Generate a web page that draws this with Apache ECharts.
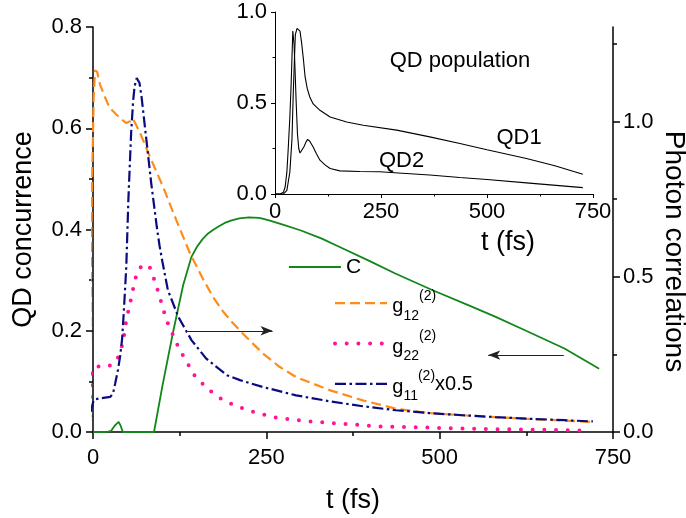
<!DOCTYPE html>
<html>
<head>
<meta charset="utf-8">
<script src="https://cdn.jsdelivr.net/npm/echarts@6/dist/echarts.min.js"></script>
<style>html,body{margin:0;padding:0;background:#fff}#c{width:686px;height:518px}</style>
</head>
<body>
<div id="c"></div>
<script>
// ---- main panel data (t in fs) ----
const cT = [0, 20, 26, 31, 37, 40, 43, 88, 100, 115, 130, 142, 150, 158, 165, 173, 181, 190, 200, 211, 225, 240, 254, 275, 300, 330, 355, 400, 436, 490, 542, 580, 623, 680, 730];
const cV = [0, 0, 0.002, 0.012, 0.02, 0.012, 0, 0, 0.09, 0.194, 0.29, 0.346, 0.366, 0.381, 0.391, 0.399, 0.406, 0.413, 0.418, 0.422, 0.424, 0.423, 0.418, 0.409, 0.398, 0.382, 0.366, 0.337, 0.313, 0.28, 0.25, 0.228, 0.201, 0.165, 0.125];

const g12T = [-6, -4.5, -3, -1, 1, 3, 6, 10, 17, 24, 34, 42, 48, 53, 57, 62, 68, 82, 101, 120, 140, 157, 173, 187, 202, 221, 245, 269, 293, 341, 389, 437, 485, 533, 580, 624, 680, 721];
const g12V = [0, 0.25, 0.55, 0.85, 1.08, 1.165, 1.16, 1.12, 1.08, 1.044, 1.022, 1.005, 0.995, 1.0, 1.01, 0.99, 0.963, 0.887, 0.79, 0.683, 0.575, 0.5, 0.435, 0.39, 0.35, 0.306, 0.253, 0.21, 0.177, 0.135, 0.102, 0.075, 0.061, 0.054, 0.048, 0.043, 0.037, 0.032];

const g22T = [-6, -4, -2, 3, 12, 21, 30, 36, 43, 48, 54, 58, 63, 70, 76, 82, 87, 94, 106, 124, 147, 165, 180, 202, 226, 259, 307, 355, 413, 485, 533, 620, 706];
const g22V = [0, 0.145, 0.19, 0.212, 0.21, 0.21, 0.222, 0.24, 0.285, 0.36, 0.42, 0.463, 0.511, 0.535, 0.541, 0.53, 0.5, 0.452, 0.36, 0.269, 0.18, 0.14, 0.113, 0.088, 0.068, 0.048, 0.035, 0.027, 0.018, 0.014, 0.011, 0.008, 0.005];

const g11T = [-7.5, -5, -2.6, 0, 2, 15, 25, 29, 32, 36, 39, 42, 44, 46, 48, 51, 55, 58, 60, 63, 67, 70, 77, 84, 92, 96, 100, 108, 123, 142, 163, 193, 212, 245, 293, 341, 389, 437, 485, 533, 580, 624, 680, 721];
const g11V = [0, 0.04, 0.07, 0.095, 0.105, 0.11, 0.113, 0.125, 0.156, 0.2, 0.242, 0.3, 0.371, 0.45, 0.532, 0.747, 0.963, 1.07, 1.113, 1.14, 1.125, 1.08, 0.941, 0.801, 0.661, 0.6, 0.55, 0.457, 0.371, 0.296, 0.237, 0.183, 0.167, 0.145, 0.118, 0.099, 0.083, 0.07, 0.061, 0.054, 0.048, 0.043, 0.038, 0.034];

// ---- inset data ----
const qd1T = [0, 20, 28, 35, 40, 43, 46, 48, 52, 55, 59, 63, 67, 71, 76, 82, 90, 106, 130, 169, 208, 287, 365, 436, 500, 593, 660, 726];
const qd1V = [0, 0, 0.02, 0.12, 0.3, 0.55, 0.75, 0.876, 0.91, 0.916, 0.895, 0.826, 0.74, 0.643, 0.58, 0.533, 0.495, 0.46, 0.423, 0.396, 0.378, 0.351, 0.314, 0.277, 0.243, 0.195, 0.155, 0.108];
const qd2T = [0, 12, 20, 24, 28, 31, 35, 38, 42, 45, 47, 50, 53, 56, 59, 63, 68, 73, 77, 82, 90, 98, 106, 118, 130, 153, 200, 247, 300, 365, 436, 500, 600, 726];
const qd2V = [0, 0, 0.01, 0.04, 0.12, 0.24, 0.42, 0.6, 0.896, 0.82, 0.7, 0.5, 0.33, 0.25, 0.225, 0.235, 0.258, 0.285, 0.3, 0.29, 0.258, 0.22, 0.186, 0.16, 0.14, 0.127, 0.124, 0.122, 0.114, 0.104, 0.091, 0.08, 0.06, 0.035];

// ---- axes / ticks ----
const rightTicks = [0, 0.5, 1.0];
const rightMinor = [0.25, 0.75, 1.25];

// ---- annotation arrows (data coords) ----
const arrowRight = [[137, 0.2], [259, 0.2]];   // points to right axis
const arrowLeft = [[679, 0.152], [570, 0.152]]; // points to left axis

const zip = (a, b) => a.map((t, i) => [t, b[i]]);
const FONT = '"Liberation Sans", Arial, sans-serif';

const chart = echarts.init(document.getElementById('c'), null, {renderer: 'canvas'});

const axisLineMain = {show: true, lineStyle: {color: '#000', width: 1.5}};
const axisLineInset = {show: true, lineStyle: {color: '#000', width: 1}};
const lblMain = {color: '#000', fontSize: 22, fontFamily: FONT};

const richLeg = {
  h: {fontSize: 1, height: 34},
  g: {fontSize: 20, fontFamily: FONT, color: '#000', height: 27, verticalAlign: 'bottom'},
  sub: {fontSize: 14, fontFamily: FONT, color: '#000', height: 9, verticalAlign: 'bottom'},
  sup: {fontSize: 14, fontFamily: FONT, color: '#000', height: 19, verticalAlign: 'top'},
  x: {fontSize: 20, fontFamily: FONT, color: '#000', height: 33, verticalAlign: 'bottom'}
};
const legendLabels = {
  g12: '{h| }{g|g}{sub|12}{sup|(2)}',
  g22: '{h| }{g|g}{sub|22}{sup|(2)}',
  g11: '{h| }{g|g}{sub|11}{sup|(2)}{x|x0.5}'
};

const option = {
  animation: false,
  backgroundColor: '#fff',
  grid: [
    {left: 93, right: 73, top: 27, bottom: 86, containLabel: false, outerBoundsMode: 'none'},
    {left: 275, right: 93, top: 12, bottom: 324, containLabel: false, outerBoundsMode: 'none'}
  ],
  xAxis: [
    {
      gridIndex: 0, type: 'value', min: 0, max: 750, interval: 250,
      name: 't (fs)', nameLocation: 'middle', nameGap: 55, nameMoveOverlap: false,
      nameTextStyle: {fontSize: 27, color: '#000', fontFamily: FONT},
      axisLine: axisLineMain,
      axisTick: {show: true, length: 7, lineStyle: {color: '#000', width: 1.5}},
      minorTick: {show: true, splitNumber: 2, length: 4, lineStyle: {color: '#000', width: 1.5}},
      axisLabel: Object.assign({margin: 15}, lblMain),
      splitLine: {show: false}
    },
    {
      gridIndex: 1, type: 'value', min: 0, max: 750, interval: 250,
      name: 't (fs)', nameLocation: 'middle', nameGap: 35, nameMoveOverlap: false,
      nameTextStyle: {fontSize: 27, color: '#000', fontFamily: FONT, padding: [0, 0, 0, 148]},
      axisLine: axisLineInset,
      axisTick: {show: true, length: 4, lineStyle: {color: '#000', width: 1}},
      minorTick: {show: true, splitNumber: 2, length: 2.5, lineStyle: {color: '#000', width: 1}},
      axisLabel: Object.assign({margin: 7}, lblMain),
      splitLine: {show: false}
    }
  ],
  yAxis: [
    {
      gridIndex: 0, type: 'value', min: 0, max: 0.8, interval: 0.2, position: 'left',
      name: 'QD concurrence', nameLocation: 'middle', nameGap: 56, nameRotate: 90, nameMoveOverlap: false,
      nameTextStyle: {fontSize: 27, color: '#000', fontFamily: FONT},
      axisLine: axisLineMain,
      axisTick: {show: true, length: 7, lineStyle: {color: '#000', width: 1.5}},
      minorTick: {show: true, splitNumber: 2, length: 4, lineStyle: {color: '#000', width: 1.5}},
      axisLabel: Object.assign({margin: 11, formatter: v => v.toFixed(1)}, lblMain),
      splitLine: {show: false}
    },
    {
      gridIndex: 0, type: 'value', min: 0, max: 1.3045, position: 'right',
      name: 'Photon correlations', nameLocation: 'middle', nameGap: 47, nameRotate: -90, nameMoveOverlap: false,
      nameTextStyle: {fontSize: 28, color: '#000', fontFamily: FONT, padding: [0, 0, 0, 44]},
      axisLine: axisLineMain,
      axisTick: {show: true, length: 7, customValues: rightTicks, lineStyle: {color: '#000', width: 1.5}},
      axisLabel: Object.assign({margin: 10, customValues: rightTicks, formatter: v => v.toFixed(1)}, lblMain),
      splitLine: {show: false}
    },
    {
      gridIndex: 1, type: 'value', min: 0, max: 1, interval: 0.5,
      axisLine: axisLineInset,
      axisTick: {show: true, length: 4, lineStyle: {color: '#000', width: 1}},
      minorTick: {show: true, splitNumber: 2, length: 2.5, lineStyle: {color: '#000', width: 1}},
      axisLabel: Object.assign({margin: 8, formatter: v => v.toFixed(1)}, lblMain),
      splitLine: {show: false}
    },
    {
      gridIndex: 0, type: 'value', min: 0, max: 1.3045, position: 'right',
      axisLine: {show: false},
      axisTick: {show: true, length: 4, customValues: rightMinor, lineStyle: {color: '#000', width: 1.5}},
      axisLabel: {show: false},
      splitLine: {show: false}
    }
  ],
  legend: [
    {
      data: ['C'], left: 288, top: 255, padding: 0, itemWidth: 52, itemHeight: 14,
      itemStyle: {opacity: 0}, lineStyle: {width: 'inherit'},
      textStyle: {fontSize: 21, lineHeight: 24, color: '#000', fontFamily: FONT},
      selectedMode: false
    },
    {
      data: ['g12', 'g22', 'g11'], orient: 'vertical', left: 333, top: 288.7, padding: 0,
      itemWidth: 52, itemHeight: 14, itemGap: 6.3,
      itemStyle: {opacity: 0}, lineStyle: {width: 'inherit'},
      formatter: n => legendLabels[n],
      textStyle: {color: '#000', fontFamily: FONT, rich: richLeg},
      selectedMode: false
    }
  ],
  graphic: [
    {type: 'text', x: 460, y: 61, silent: true,
     style: {text: 'QD population', font: '22px ' + FONT, fill: '#000', align: 'center', verticalAlign: 'middle', textAlign: 'center', textVerticalAlign: 'middle'}},
    {type: 'text', x: 519, y: 137.5, silent: true,
     style: {text: 'QD1', font: '22px ' + FONT, fill: '#000', align: 'center', verticalAlign: 'middle', textAlign: 'center', textVerticalAlign: 'middle'}},
    {type: 'text', x: 401.5, y: 160.5, silent: true,
     style: {text: 'QD2', font: '22px ' + FONT, fill: '#000', align: 'center', verticalAlign: 'middle', textAlign: 'center', textVerticalAlign: 'middle'}}
  ],
  series: [
    {
      name: 'C', type: 'line', xAxisIndex: 0, yAxisIndex: 0, symbol: 'none', showSymbol: false,
      data: zip(cT, cV), lineStyle: {color: '#12861a', width: 1.8}, itemStyle: {color: '#12861a'},
      z: 3,
      markLine: {
        silent: true, symbol: ['none', 'arrow'], symbolSize: [7, 12], precision: 4,
        label: {show: false},
        lineStyle: {color: '#222', width: 1, type: 'solid'},
        emphasis: {disabled: true},
        data: [
          [{coord: arrowRight[0]}, {coord: arrowRight[1]}],
          [{coord: arrowLeft[0]}, {coord: arrowLeft[1]}]
        ]
      }
    },
    {
      name: 'g12', type: 'line', xAxisIndex: 0, yAxisIndex: 1, symbol: 'none', showSymbol: false, clip: false,
      data: zip(g12T, g12V), lineStyle: {color: '#ff8c1a', width: 2.2, type: [10, 5]}, itemStyle: {color: '#ff8c1a'}
    },
    {
      name: 'g22', type: 'line', xAxisIndex: 0, yAxisIndex: 1, symbol: 'none', showSymbol: false, clip: false,
      data: zip(g22T, g22V), lineStyle: {color: '#ff1493', width: 4, type: [0, 11.7], cap: 'round'}, itemStyle: {color: '#ff1493'}
    },
    {
      name: 'g11', type: 'line', xAxisIndex: 0, yAxisIndex: 1, symbol: 'none', showSymbol: false, clip: false,
      data: zip(g11T, g11V), lineStyle: {color: '#0b0b80', width: 2.2, type: [11, 3.5, 2.5, 3.5]}, itemStyle: {color: '#0b0b80'}
    },
    {
      name: 'QD1', type: 'line', xAxisIndex: 1, yAxisIndex: 2, symbol: 'none', showSymbol: false,
      data: zip(qd1T, qd1V), lineStyle: {color: '#000', width: 1.1}
    },
    {
      name: 'QD2', type: 'line', xAxisIndex: 1, yAxisIndex: 2, symbol: 'none', showSymbol: false,
      data: zip(qd2T, qd2V), lineStyle: {color: '#000', width: 1.1}
    }
  ]
};
chart.setOption(option);
</script>
</body>
</html>
